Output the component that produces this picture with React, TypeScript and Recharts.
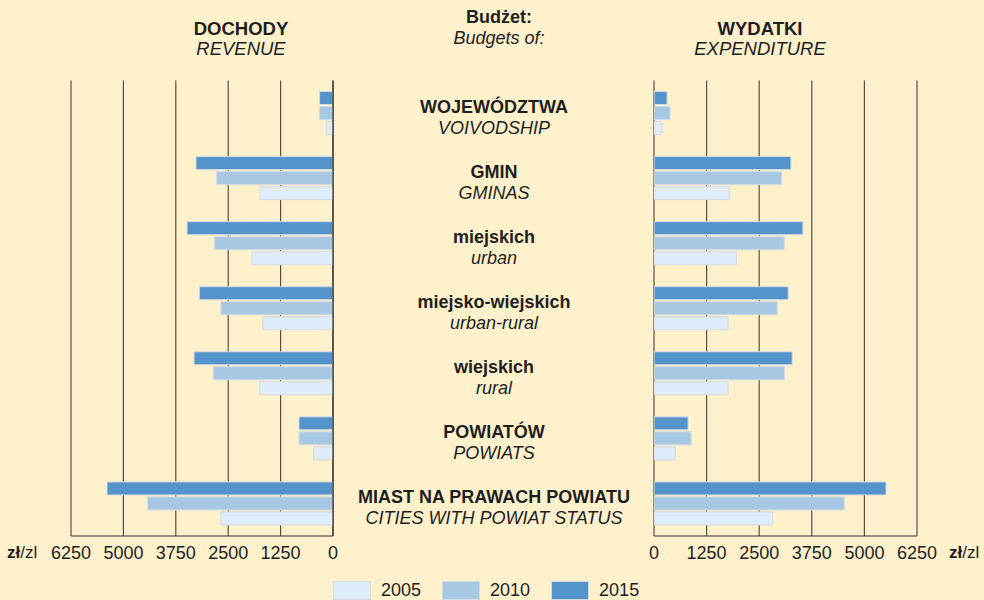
import React from 'react';
import { BarChart, Bar, XAxis, YAxis, CartesianGrid } from 'recharts';

const categoriesPl = ['WOJEWÓDZTWA', 'GMIN', 'miejskich', 'miejsko-wiejskich', 'wiejskich', 'POWIATÓW', 'MIAST NA PRAWACH POWIATU'];
const categoriesEn = ['VOIVODSHIP', 'GMINAS', 'urban', 'urban-rural', 'rural', 'POWIATS', 'CITIES WITH POWIAT STATUS'];

const revenue2015 = [320, 3268, 3482, 3189, 3315, 812, 5390];
const revenue2010 = [320, 2776, 2824, 2671, 2855, 810, 4422];
const revenue2005 = [152, 1741, 1932, 1679, 1751, 463, 2671];

const expenditure2015 = [310, 3254, 3539, 3190, 3285, 810, 5514];
const expenditure2010 = [381, 3031, 3095, 2928, 3103, 881, 4522];
const expenditure2005 = [190, 1786, 1960, 1762, 1762, 508, 2818];

const legendYears = ['2005', '2010', '2015'];
const valueTicks = [0, 1250, 2500, 3750, 5000, 6250];
const boundaryTicks = [0, 1, 2, 3, 4, 5, 6, 7];

const COLORS: Record<string, string> = { '2015': '#5593CB', '2010': '#A6C8E2', '2005': '#DFECF9' };
const BAR_STROKE = '#D3DAE3';
const BG = '#FFF1CC';
const FONT = '"Liberation Sans", Arial, Helvetica, sans-serif';
const TEXT = '#1E1E1E';

const revenueData = categoriesPl.map((name, i) => ({ name, y2015: revenue2015[i], y2010: revenue2010[i], y2005: revenue2005[i] }));
const expenditureData = categoriesPl.map((name, i) => ({ name, y2015: expenditure2015[i], y2010: expenditure2010[i], y2005: expenditure2005[i] }));

const PLOT_TOP = 80.5;
const PLOT_BOTTOM = 536;
const BAND = (PLOT_BOTTOM - PLOT_TOP) / categoriesPl.length;

function bars() {
  return ['2015', '2010', '2005'].map((y) => (
    <Bar key={y} dataKey={'y' + y} fill={COLORS[y]} stroke={BAR_STROKE} strokeWidth={1} isAnimationActive={false} />
  ));
}

function Side({ data, reversed, width, margin, yOrient }: any) {
  return (
    <BarChart
      width={width}
      height={600}
      data={data}
      layout="vertical"
      margin={margin}
      barCategoryGap={11}
      barGap={2}
    >
      <CartesianGrid horizontal={false} stroke="#55504a" strokeWidth={1.2} />
      <XAxis
        type="number"
        domain={[0, 6250]}
        ticks={valueTicks}
        interval={0}
        reversed={reversed}
        height={PLOT_BOTTOM === 536 ? 64 : 64}
        tickLine={false}
        tickMargin={4}
        axisLine={{ stroke: '#333', strokeWidth: 1.2 }}
        tick={{ fill: TEXT, fontSize: 18, fontFamily: FONT }}
        allowDataOverflow
      />
      <YAxis type="category" dataKey="name" hide />
      <YAxis
        yAxisId="n"
        type="number"
        orientation={yOrient}
        domain={[0, 7]}
        ticks={boundaryTicks}
        interval={0}
        tick={false}
        tickSize={3}
        width={5}
        axisLine={{ stroke: '#333', strokeWidth: 1.2 }}
        tickLine={{ stroke: '#333', strokeWidth: 1.2 }}
      />
      {bars()}
    </BarChart>
  );
}

export default function App() {
  return (
    <div style={{ position: 'absolute', left: 0, top: 0, width: 984, height: 600, background: BG, fontFamily: FONT, overflow: 'hidden' }}>
      <svg width={984} height={600} style={{ position: 'absolute', left: 0, top: 0 }}>
        <g fontFamily={FONT} fill={TEXT} textAnchor="middle">
          <text x={499} y={22.7} fontSize={18} fontWeight="bold">Budżet:</text>
          <text x={499} y={43.5} fontSize={18} fontStyle="italic">Budgets of:</text>
          <text x={241} y={34.5} fontSize={18.5} fontWeight="bold">DOCHODY</text>
          <text x={241} y={55} fontSize={18.5} fontStyle="italic">REVENUE</text>
          <text x={760} y={34.5} fontSize={18.5} fontWeight="bold">WYDATKI</text>
          <text x={760} y={55} fontSize={18.5} fontStyle="italic">EXPENDITURE</text>
          {categoriesPl.map((c, i) => {
            const cy = PLOT_TOP + (i + 0.5) * BAND;
            return (
              <g key={c}>
                <text x={494} y={cy - 0.5} fontSize={18} fontWeight="bold">{c}</text>
                <text x={494} y={cy + 20.5} fontSize={18} fontStyle="italic">{categoriesEn[i]}</text>
              </g>
            );
          })}
          <text x={7} y={558} fontSize={17} textAnchor="start">
            <tspan fontWeight="bold">zł</tspan>/zl
          </text>
          <text x={949} y={558} fontSize={17} textAnchor="start">
            <tspan fontWeight="bold">zł</tspan>/zl
          </text>
        </g>
      </svg>
      <div style={{ position: 'absolute', left: 0, top: 0 }}>
        <Side data={revenueData} reversed={true} width={345} margin={{ top: PLOT_TOP, right: 7, bottom: 0, left: 71 }} yOrient="right" />
      </div>
      <div style={{ position: 'absolute', left: 639, top: 0 }}>
        <Side data={expenditureData} reversed={false} width={303} margin={{ top: PLOT_TOP, right: 25, bottom: 0, left: 10 }} yOrient="left" />
      </div>
      <div style={{ position: 'absolute', left: 333, top: 581, display: 'flex', alignItems: 'flex-start' }}>
        {legendYears.map((y) => (
          <div key={y} style={{ display: 'flex', alignItems: 'flex-start', marginRight: 21 }}>
            <div style={{ width: 38, height: 19, background: COLORS[y], border: '1px solid ' + BAR_STROKE, boxSizing: 'border-box' }} />
            <div style={{ marginLeft: 10, fontSize: 18, color: TEXT, lineHeight: '18px', marginTop: 0 }}>{y}</div>
          </div>
        ))}
      </div>
    </div>
  );
}
